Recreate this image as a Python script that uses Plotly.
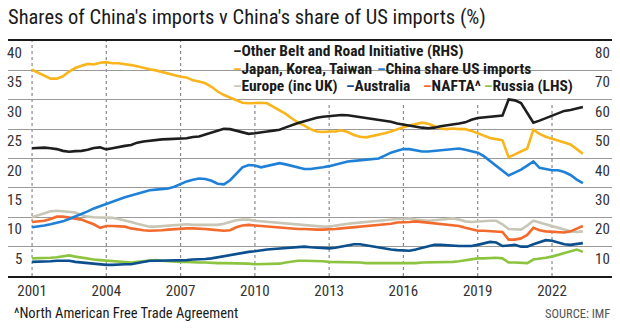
import plotly.graph_objects as go
import pandas as pd

# ---------------- data (quarterly readings, 2001Q1 .. 2023Q2) ----------------
dates = pd.date_range("2001-01-01", periods=90, freq="QS").strftime("%Y-%m-%d").tolist()

other_bri = [  # RHS
    43.5, 43.6, 43.7, 43.5,  43.2, 42.6, 42.3, 42.5,  42.6, 43.0, 43.6, 43.8,
    43.1, 43.5, 44.0, 44.3,  44.6, 45.4, 45.8, 46.1,  46.3, 46.5, 46.6, 46.7,
    46.6, 46.9, 47.3, 47.5,  48.2, 48.8, 49.3, 50.1,  50.0, 49.5, 48.9, 48.4,
    48.6, 49.0, 49.2, 49.5,  49.8, 50.6, 51.4, 52.1,  52.7, 53.4, 53.9, 54.2,
    54.4, 54.7, 54.8, 54.7,  54.4, 54.2, 53.9, 53.5,  53.2, 52.9, 52.5, 51.9,
    51.5, 51.2, 50.8, 50.5,  50.3, 50.5, 51.0, 51.3,  51.4, 51.9, 52.3, 53.2,
    53.8, 54.0, 54.1, 54.2,  54.6, 60.1, 59.8, 58.9,  55.5, 52.2, 52.9, 53.7,
    54.4, 55.4, 56.2, 56.5,  56.9, 57.5]

japan_korea_taiwan = [
    35.1, 34.6, 34.0, 33.6,  33.6, 34.0, 34.8, 35.4,  35.8, 36.1, 36.0, 36.3,
    36.4, 36.2, 36.2, 36.1,  35.9, 35.7, 35.4, 35.2,  35.0, 34.7, 34.4, 34.2,
    33.9, 33.8, 33.3, 33.1,  32.8, 32.2, 31.4, 30.8,  30.4, 29.9, 29.5, 29.4,
    29.5, 29.5, 29.4, 28.8,  28.3, 27.6, 26.8, 26.1,  25.6, 25.0, 24.6, 24.5,
    24.6, 24.6, 24.8, 24.5,  24.0, 23.7, 23.6, 23.8,  24.1, 24.3, 24.6, 25.0,
    25.3, 25.6, 25.9, 26.1,  25.9, 25.5, 25.1, 25.0,  25.1, 25.0, 25.0, 24.7,
    24.3, 23.9, 23.5, 23.3,  23.1, 20.2, 20.7, 21.3,  21.7, 24.9, 24.2, 23.7,
    23.4, 23.1, 22.8, 22.4,  21.6, 20.8]

china_share_us = [
    8.3, 8.4, 8.6, 8.8,  9.0, 9.3, 9.7, 10.1,  10.5, 11.0, 11.5, 11.9,
    12.3, 12.6, 13.0, 13.4,  13.7, 14.0, 14.3, 14.6,  14.7, 14.8, 14.9, 15.2,
    15.7, 16.1, 16.4, 16.6,  16.5, 16.2, 15.7, 15.6,  16.3, 17.4, 18.5, 18.9,
    18.8, 18.5, 18.7, 19.0,  19.2, 19.0, 18.7, 18.4,  18.2, 18.2, 18.3, 18.5,
    18.7, 19.0, 19.3, 19.5,  19.6, 19.7, 19.8, 19.9,  20.0, 20.5, 21.0, 21.3,
    21.6, 21.6, 21.4, 21.2,  21.2, 21.3, 21.4, 21.6,  21.7, 21.7, 21.5, 21.2,
    21.0, 20.4, 19.6, 18.8,  18.0, 17.1, 17.6, 18.1,  18.8, 19.5, 18.4, 18.2,
    18.0, 18.0, 17.7, 17.2,  16.4, 15.8]

europe = [
    10.0, 10.3, 10.7, 11.0,  11.1, 11.0, 10.9, 10.8,  10.4, 10.1, 10.0, 10.0,
    10.0, 9.9, 9.7, 9.5,  9.2, 8.9, 8.6, 8.4,  8.4, 8.5, 8.6, 8.7,
    8.7, 8.8, 8.7, 8.7,  8.7, 8.7, 8.7, 8.9,  9.2, 9.5, 9.6, 9.6,
    9.4, 9.3, 9.3, 9.1,  9.1, 9.0, 8.9, 8.8,  8.7, 8.6, 8.5, 8.4,
    8.4, 8.6, 8.8, 8.9,  9.0, 9.1, 9.2, 9.4,  9.5, 9.5, 9.6, 9.7,
    9.7, 9.8, 9.6, 9.5,  9.4, 9.5, 9.6, 9.8,  9.8, 9.6, 9.3, 9.2,
    9.3, 9.4, 9.4, 9.4,  8.8, 8.0, 7.9, 7.9,  8.6, 9.4, 9.1, 8.8,
    8.5, 8.1, 7.8, 7.6,  7.5, 7.6]

australia = [
    2.4, 2.4, 2.5, 2.5,  2.6, 2.6, 2.6, 2.4,  2.3, 2.1, 2.0, 1.9,
    1.9, 1.9, 2.0, 2.0,  2.0, 2.2, 2.4, 2.6,  2.6, 2.6, 2.6, 2.7,
    2.7, 2.7, 2.8, 2.8,  2.9, 3.0, 3.2, 3.4,  3.6, 3.8, 4.0, 4.1,
    4.2, 4.4, 4.5, 4.6,  4.7, 4.8, 4.9, 5.0,  5.0, 4.9, 4.8, 4.7,
    4.7, 4.8, 5.0, 5.3,  5.4, 5.4, 5.2, 5.0,  4.8, 4.7, 4.5, 4.4,
    4.3, 4.3, 4.5, 4.8,  5.1, 5.3, 5.3, 5.2,  5.1, 5.1, 5.1, 5.1,
    5.3, 5.6, 5.8, 5.7,  5.1, 5.2, 5.3, 5.0,  5.0, 5.4, 5.7, 6.1,
    6.0, 5.7, 5.4, 5.3,  5.4, 5.6]

nafta = [
    9.2, 9.3, 9.4, 9.7,  10.1, 10.1, 9.9, 9.8,  9.6, 9.2, 8.8, 8.2,
    8.5, 8.5, 8.4, 8.4,  8.1, 7.9, 7.8, 7.7,  7.7, 7.8, 7.9, 8.0,
    8.1, 8.1, 8.1, 8.1,  8.0, 7.9, 7.8, 7.7,  7.8, 8.3, 8.6, 8.7,
    8.6, 8.5, 8.4, 8.3,  8.3, 8.2, 8.1, 8.0,  8.0, 7.9, 7.9, 7.9,
    7.9, 8.0, 8.1, 8.2,  8.3, 8.4, 8.4, 8.5,  8.6, 8.8, 8.9, 9.1,
    9.1, 9.2, 9.3, 9.2,  9.1, 9.0, 8.9, 8.8,  8.7, 8.5, 8.2, 7.9,
    7.7, 7.7, 7.6, 7.5,  7.5, 6.2, 6.2, 6.4,  7.0, 8.2, 7.8, 7.6,
    7.5, 7.5, 7.4, 7.6,  8.1, 8.5]

russia = [
    3.0, 3.0, 3.0, 3.1,  3.2, 3.4, 3.5, 3.3,  3.1, 2.9, 2.8, 2.7,
    2.6, 2.5, 2.4, 2.4,  2.3, 2.4, 2.5, 2.7,  2.7, 2.6, 2.5, 2.5,
    2.4, 2.4, 2.3, 2.3,  2.3, 2.2, 2.2, 2.2,  2.2, 2.2, 2.1, 2.1,
    2.0, 2.0, 2.0, 2.0,  2.1, 2.3, 2.5, 2.6,  2.6, 2.6, 2.6, 2.5,
    2.4, 2.4, 2.3, 2.3,  2.3, 2.3, 2.2, 2.2,  2.2, 2.1, 2.1, 2.2,
    2.2, 2.2, 2.2, 2.3,  2.3, 2.3, 2.4, 2.4,  2.4, 2.5, 2.7, 2.9,
    3.0, 3.0, 3.1, 3.1,  3.0, 2.3, 2.3, 2.2,  2.2, 2.8, 2.9, 3.1,
    3.3, 3.6, 4.0, 4.3,  4.5, 4.1]

year_ticks = ["2001", "2004", "2007", "2010", "2013", "2016", "2019", "2022"]
lhs_ticks = [5, 10, 15, 20, 25, 30, 35, 40]
rhs_ticks = [10, 20, 30, 40, 50, 60, 70, 80]

# ---------------- styling ----------------
W, H = 620, 334
L, R, T, B = 8, 612, 41, 276
FONT = "Roboto Condensed, Liberation Sans Narrow, DejaVu Sans Condensed, Roboto, sans-serif"

C_BLACK = "#1e1e1e"
C_YELLOW = "#f9b51b"
C_BLUE = "#1f80d8"
C_EUROPE = "#c8c6b6"
C_AUS = "#0b4f8e"
C_NAFTA = "#f36a2d"
C_RUSSIA = "#8dc43f"


def px(p):
    return (p - L) / (R - L)


def py(p):
    return (B - p) / (B - T)


fig = go.Figure()

traces = [
    ("Russia (LHS)", russia, C_RUSSIA, "y"),
    ("Australia", australia, C_AUS, "y"),
    ("Europe (inc UK)", europe, C_EUROPE, "y"),
    ("NAFTA^", nafta, C_NAFTA, "y"),
    ("China share US imports", china_share_us, C_BLUE, "y"),
    ("Japan, Korea, Taiwan", japan_korea_taiwan, C_YELLOW, "y"),
    ("Other Belt and Road Initiative (RHS)", other_bri, C_BLACK, "y2"),
]
for name, vals, col, ax in traces:
    fig.add_trace(go.Scatter(x=dates, y=vals, name=name, mode="lines",
                             line=dict(color=col, width=2.6), yaxis=ax,
                             showlegend=False, hoverinfo="skip"))

x_range = ["2000-01-12", "2024-06-04"]

fig.update_layout(
    width=W, height=H,
    margin=dict(l=L, r=W - R, t=T, b=H - B),
    paper_bgcolor="white", plot_bgcolor="white",
    showlegend=False,
    title=dict(text="Shares of China's imports v China's share of US imports (%)",
               x=8 / W, xanchor="left", xref="container",
               y=1 - 17 / H, yanchor="middle", yref="container",
               font=dict(family=FONT, size=20.5, color="#1a1a1a")),
    xaxis=dict(type="date", range=x_range,
               tickvals=[f"{y}-01-01" for y in year_ticks], ticktext=year_ticks,
               showgrid=False, zeroline=False,
               showline=True, mirror=True, linecolor="#1a1a1a", linewidth=1.6,
               ticks="", ticklen=0,
               tickfont=dict(family=FONT, size=15, color="#333")),
    yaxis=dict(range=[0, 40], dtick=5, showgrid=True, gridcolor="#9a9a9a",
               gridwidth=1.2, zeroline=False, showticklabels=False, ticks=""),
    yaxis2=dict(range=[0, 80], overlaying="y", side="right", showgrid=False,
                zeroline=False, showticklabels=False, ticks=""),
)

shapes = []
# white legend panel hiding the gridline behind it
shapes.append(dict(type="rect", xref="paper", yref="paper", layer="between",
                   x0=px(211), x1=px(593), y0=py(98), y1=py(43),
                   fillcolor="white", line=dict(width=0)))
# dotted vertical year lines
for y in year_ticks:
    d = f"{y}-01-01"
    top = 40 if int(y) < 2009 else (B - 105) / (B - T) * 40
    shapes.append(dict(type="line", xref="x", yref="y", layer="below",
                       x0=d, x1=d, y0=0, y1=top,
                       line=dict(color="#8a8a8a", width=1.2, dash="dot")))
fig.update_layout(shapes=shapes)

ann = []
for v in lhs_ticks:
    ann.append(dict(text=str(v), xref="paper", yref="y", x=px(23.5), y=v,
                    xanchor="right", yanchor="middle", yshift=-12, showarrow=False,
                    font=dict(family=FONT, size=15, color="#333")))
for v in rhs_ticks:
    ann.append(dict(text=str(v), xref="paper", yref="y2", x=px(611.5), y=v,
                    xanchor="right", yanchor="middle", yshift=-12, showarrow=False,
                    font=dict(family=FONT, size=15, color="#333")))

legend_items = [
    ("Other Belt and Road Initiative (RHS)", C_BLACK, 231, 51),
    ("Japan, Korea, Taiwan", C_YELLOW, 231, 68.5),
    ("China share US imports", C_BLUE, 375, 68.5),
    ("Europe (inc UK)", C_EUROPE, 231, 86),
    ("Australia", C_AUS, 343.5, 86),
    ("NAFTA^", C_NAFTA, 421, 86),
    ("Russia (LHS)", C_RUSSIA, 482, 86),
]
for label, col, xp, yp in legend_items:
    ann.append(dict(text=f'<b><span style="color:{col}">–</span>{label}</b>',
                    xref="paper", yref="paper", x=px(xp), y=py(yp),
                    xanchor="left", yanchor="middle", showarrow=False,
                    font=dict(family=FONT, size=15.5, color="#1a1a1a")))

ann.append(dict(text="^North American Free Trade Agreement", xref="paper", yref="paper",
                x=px(12), y=py(313), xanchor="left", yanchor="middle", showarrow=False,
                font=dict(family=FONT, size=14.5, color="#1a1a1a")))
ann.append(dict(text="SOURCE: IMF", xref="paper", yref="paper",
                x=px(612), y=py(313), xanchor="right", yanchor="middle", showarrow=False,
                font=dict(family=FONT, size=12.5, color="#555")))
fig.update_layout(annotations=ann)

fig.write_html("out.html")
